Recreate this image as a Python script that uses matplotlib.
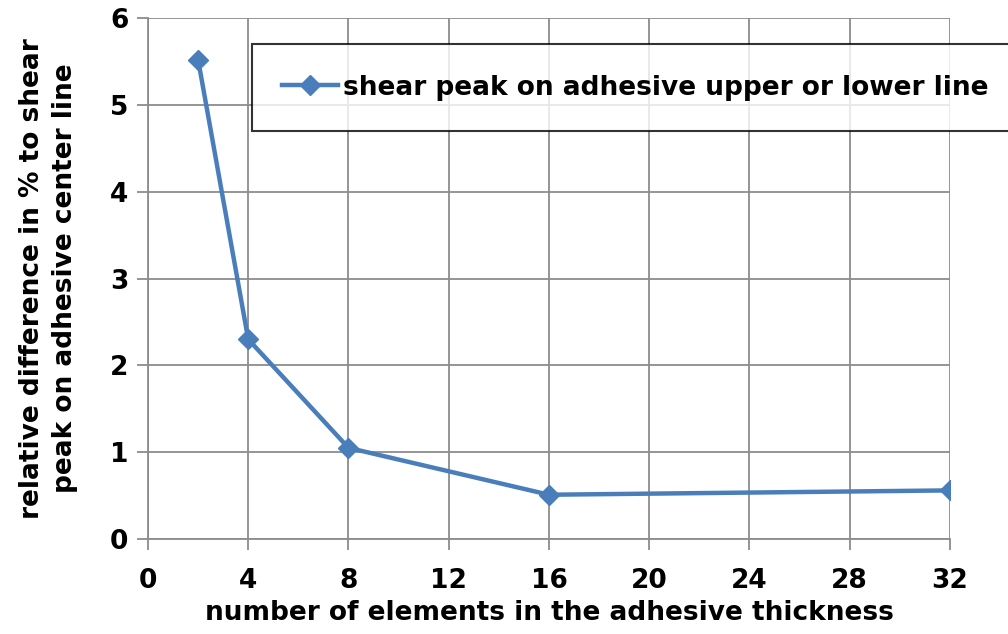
import matplotlib
matplotlib.use('Agg')
import matplotlib.pyplot as plt

# data
n_elements = [2, 4, 8, 16, 32]
rel_diff = [5.52, 2.30, 1.05, 0.51, 0.56]
x_ticks = [0, 4, 8, 12, 16, 20, 24, 28, 32]
y_ticks = [0, 1, 2, 3, 4, 5, 6]

plt.rcParams['font.family'] = ['DejaVu Sans']
plt.rcParams['font.weight'] = 'bold'

fig = plt.figure(figsize=(10.08, 6.34), dpi=100)
ax = fig.add_axes([0.1468, 0.1498, 0.7956, 0.8218])

ax.plot(n_elements, rel_diff, color='#4a7ebb', lw=3.2, marker='D', ms=10,
        label='shear peak on adhesive upper or lower line')

ax.set_xlim(0, 32)
ax.set_ylim(0, 6)
ax.set_xticks(x_ticks)
ax.set_yticks(y_ticks)
ax.grid(True, color='#8c8c8c', lw=1.3)
ax.set_axisbelow(True)
for s in ['top', 'right']:
    ax.spines[s].set_visible(False)
for s in ['left', 'bottom']:
    ax.spines[s].set_color('#8c8c8c')
    ax.spines[s].set_linewidth(1.3)
ax.tick_params(axis='both', direction='out', length=8, width=1.3, color='#8c8c8c',
               labelsize=19)
ax.tick_params(axis='x', pad=13)
ax.tick_params(axis='y', pad=6)
for lab in ax.get_xticklabels() + ax.get_yticklabels():
    lab.set_fontweight('bold')

ax.set_xlabel('number of elements in the adhesive thickness', fontsize=19,
              fontweight='bold', labelpad=4)
ax.set_ylabel('relative difference in % to shear\npeak on adhesive center line',
              fontsize=19, fontweight='bold', labelpad=23, linespacing=1.35)

leg = fig.legend(loc='center left', bbox_to_anchor=(0.25, 0.7918, 0.8, 0.140),
                 mode='expand', fontsize=19, frameon=True, fancybox=False,
                 handlelength=2.1, handletextpad=0.2, borderaxespad=0,
                 borderpad=1.15)
leg.get_frame().set_edgecolor('black')
leg.get_frame().set_linewidth(1.5)
for t in leg.get_texts():
    t.set_fontweight('bold')

fig.savefig('out.png', dpi=100)
